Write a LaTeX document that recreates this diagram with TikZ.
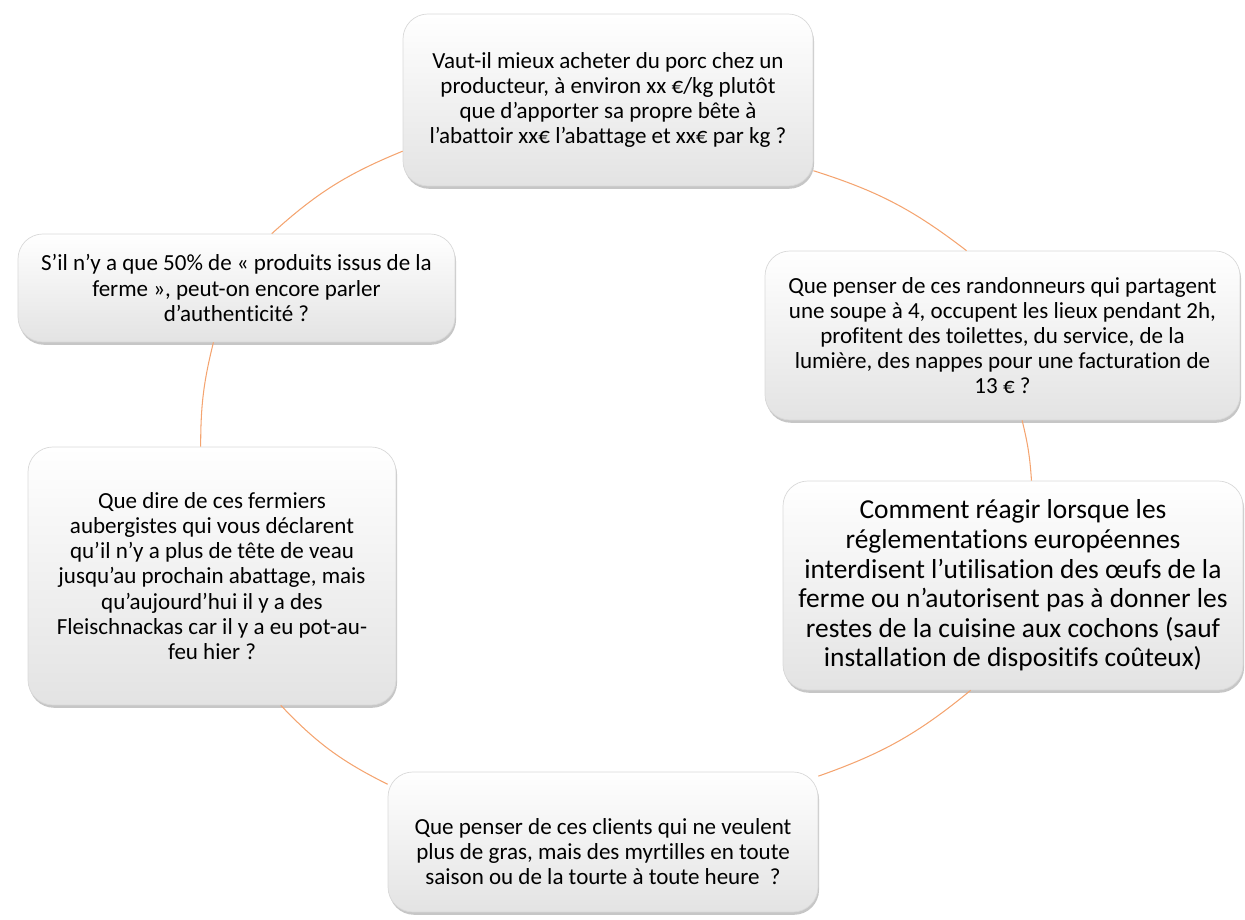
\documentclass[tikz,border=0pt]{standalone}
\usepackage{fontspec}
\setmainfont[Ligatures={NoCommon,NoContextual}]{Carlito}
\usetikzlibrary{shadows}
\definecolor{arcorange}{RGB}{244,164,112}
\tikzset{
  question/.style={draw=gray!30, line width=0.4pt, rounded corners=0.5cm,
    top color=white, bottom color=gray!22, align=center, inner sep=0pt,
    drop shadow={shadow xshift=0.6pt, shadow yshift=-1.6pt, opacity=0.45},
    font=\fontsize{13.1}{14.3}\selectfont},
  link/.style={draw=arcorange, line width=0.6pt}
}
\begin{document}
\begin{tikzpicture}
            \useasboundingbox (0, 0) rectangle (24.9, 18.4);
            \node[question, minimum width=8.2cm, minimum height=3.44cm] (n1) at (12.16, 16.4) {Vaut-il mieux acheter du porc chez un\\producteur, à environ xx €/kg plutôt\\que d’apporter sa propre bête à\\l’abattoir xx€ l’abattage et xx€ par kg ?};
            \node[question, minimum width=9.5cm, minimum height=3.38cm] (n2) at (20.05, 11.69) {Que penser de ces randonneurs qui partagent\\une soupe à 4, occupent les lieux pendant 2h,\\profitent des toilettes, du service, de la\\lumière, des nappes pour une facturation de\\13 € ?};
            \node[question, minimum width=9.2cm, minimum height=4.18cm, font=\fontsize{15.6}{16.8}\selectfont] (n3) at (20.26, 6.69) {Comment réagir lorsque les\\réglementations européennes\\interdisent l’utilisation des œufs de la\\ferme ou n’autorisent pas à donner les\\restes de la cuisine aux cochons (sauf\\installation de dispositifs coûteux)};
            \node[question, minimum width=8.6cm, minimum height=2.8cm] (n4) at (12.06, 1.56) {\rule{0pt}{0.7cm}Que penser de ces clients qui ne veulent\\plus de gras, mais des myrtilles en toute\\saison ou de la tourte à toute heure~~?};
            \node[question, minimum width=7.36cm, minimum height=5.16cm] (n5) at (4.24, 6.88) {Que dire de ces fermiers\\aubergistes qui vous déclarent\\qu’il n’y a plus de tête de veau\\jusqu’au prochain abattage, mais\\qu’aujourd’hui il y a des\\Fleischnackas car il y a eu pot-au-\\feu hier ?};
            \node[question, minimum width=8.74cm, minimum height=2.16cm] (n6) at (4.73, 12.64) {S’il n’y a que 50\% de « produits issus de la\\ferme », peut-on encore parler\\d’authenticité ?};

            \draw[link] (n1.-19.3) to[bend left=10] (n2.113.7);
            \draw[link] (n2.-77.2) to[bend left=5] (n3.80.8);
            \draw[link] (n3.-112) to[bend left=10] (n4.17.4);
            \draw[link] (n4.165.9) to[bend left=10] (n5.-62.9);
            \draw[link] (n5.95.7) to[bend left=7] (n6.247.4);
            \draw[link] (n6.57.2) to[bend left=10] (n1.194.2);
    	\end{tikzpicture}
\end{document}
